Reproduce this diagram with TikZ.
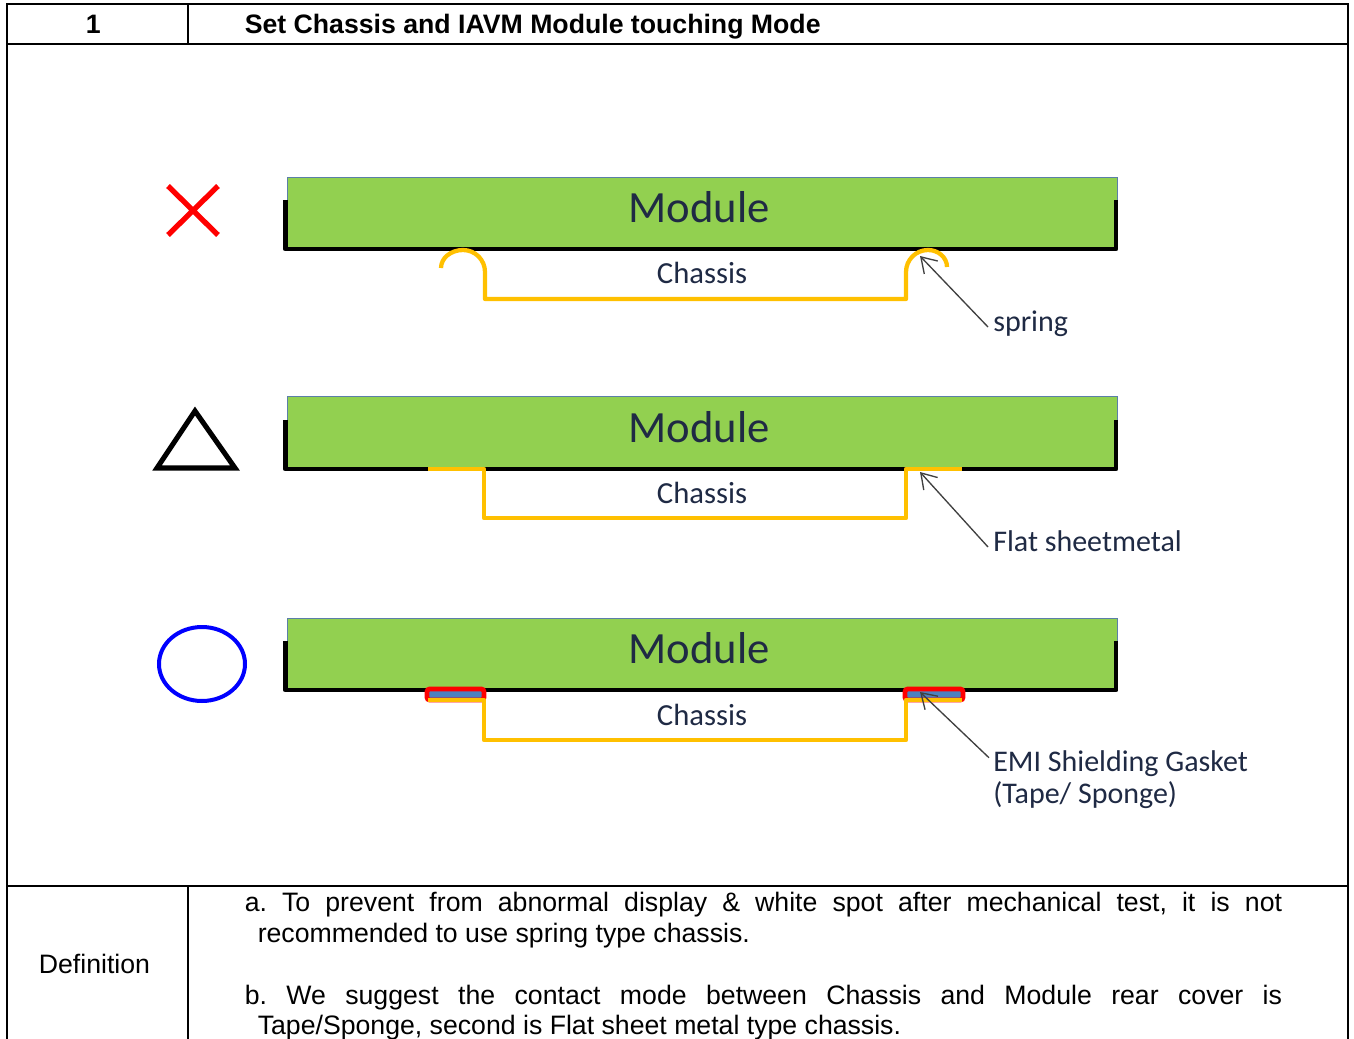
\documentclass[tikz,border=0pt]{standalone}
\usepackage{fontspec}
\setmainfont{Liberation Sans}
\newfontfamily\shapefont{Carlito}
\usetikzlibrary{arrows.meta}
\frenchspacing
\definecolor{modgreen}{HTML}{92D050}
\definecolor{modblue}{HTML}{5B7FA8}
\definecolor{chassisy}{HTML}{FFC000}
\definecolor{gasketb}{HTML}{4F81BD}
\definecolor{labeltxt}{HTML}{1F2A44}
\tikzset{
  gridline/.style={draw=black,line width=1.1pt},
  modulebox/.style={draw=modblue,line width=0.9pt,fill=modgreen,minimum width=622.5pt,minimum height=53.25pt,inner sep=0pt,anchor=north west},
  moduletext/.style={font=\shapefont\fontsize{33.5}{33}\selectfont,text=labeltxt,inner sep=0pt},
  rearcover/.style={draw=black,line width=3.7pt,line join=round},
  chassisline/.style={draw=chassisy,line width=3.2pt,line join=round},
  gasketbox/.style={draw=red,fill=gasketb,line width=3.6pt,rounded corners=2pt},
  chassistext/.style={font=\shapefont\fontsize{23}{24}\selectfont,text=labeltxt,inner sep=0pt},
  calltext/.style={font=\shapefont\fontsize{22.5}{24}\selectfont,text=labeltxt,inner sep=0pt,align=left},
  callout/.style={draw=black!75,line width=1pt,-{Straight Barb[length=11pt,width=14pt,line width=1pt]}},
  celltext/.style={font=\fontsize{20}{23}\selectfont,inner sep=0pt},
  headtext/.style={font=\bfseries\fontsize{20}{23}\selectfont,inner sep=0pt,anchor=base west},
  bodyline/.style={celltext,anchor=base west}
}
\begin{document}
\begin{tikzpicture}[x=0.75pt,y=-0.75pt]
\useasboundingbox (0,0) rectangle (1354,1039);
\fill[white] (0,0) rectangle (1354,1039);
% table
\draw[gridline] (7,1039) -- (7,4) -- (1348,4) -- (1348,1039);
\draw[gridline] (7,44) -- (1348,44);
\draw[gridline] (7,886) -- (1348,886);
\draw[gridline] (188,4) -- (188,44);
\draw[gridline] (188,886) -- (188,1039);
\node[headtext] (num) at (85.5,33) {1};
\node[headtext] (title) at (244.5,33) {Set Chassis and IAVM Module touching Mode};
\node[celltext] (defn) at (94.5,964) {Definition};
\node[bodyline] (para1a) at (244.5,911) {\hbox to 778pt{a. To prevent from abnormal display \& white spot after mechanical test, it is not}};
\node[bodyline] (para1b) at (257.5,942) {recommended to use spring type chassis.};
\node[bodyline] (para2a) at (244.5,1004) {\hbox to 778pt{b. We suggest the contact mode between Chassis and Module rear cover is}};
\node[bodyline] (para2b) at (257.5,1034) {Tape/Sponge, second is Flat sheet metal type chassis.};
% symbols
\draw[red,line width=4pt] (168,186) -- (218,235) (218,186) -- (168,235);
\draw[black,line width=3.8pt,line join=miter] (195,411) -- (235,468) -- (157,468) -- cycle;
\draw[blue,line width=3pt] (202,664) ellipse [x radius=43,y radius=37];
% row 1
\node[modulebox] (mod1) at (287,177) {};
\node[moduletext] (mod1t) at (699,207.5) {Module};
\draw[rearcover] (285.5,200) -- (285.5,249) -- (1116,249) -- (1116,200);
\draw[chassisline] (441,268) arc[start angle=180,end angle=270,x radius=22,y radius=18] arc[start angle=270,end angle=360,x radius=22,y radius=22] -- (485,299) -- (906,299) -- (906,272) arc[start angle=180,end angle=270,x radius=22,y radius=22] arc[start angle=270,end angle=360,x radius=19,y radius=17];
\node[chassistext] (ch1) at (702,273) {Chassis};
\node[calltext,anchor=base west] (spring) at (993,331) {spring};
\coordinate (tip1) at (920,256);
\draw[callout] (spring.base west) ++(-5,-4) -- (tip1);
% row 2
\node[modulebox] (mod2) at (287,396) {};
\node[moduletext] (mod2t) at (699,427.5) {Module};
\draw[rearcover] (285.5,420) -- (285.5,469) -- (1116,469) -- (1116,420);
\draw[chassisline] (428,469) -- (484,469) -- (484,518) -- (906,518) -- (906,469) -- (962,469);
\node[chassistext] (ch2) at (702,493) {Chassis};
\node[calltext,anchor=base west] (flat) at (993,551) {Flat sheetmetal};
\coordinate (tip2) at (920,472);
\draw[callout] (flat.base west) ++(-5,-4) -- (tip2);
% row 3
\node[modulebox] (mod3) at (287,618) {};
\node[moduletext] (mod3t) at (699,648.5) {Module};
\draw[rearcover] (285.5,641) -- (285.5,690) -- (1116,690) -- (1116,641);
\draw[gasketbox] (427,700) -- (427,689) -- (484,689) -- (484,700) -- cycle;
\draw[gasketbox] (905,700) -- (905,689) -- (963,689) -- (963,700) -- cycle;
\draw[chassisline] (428,700) -- (484,700) -- (484,740) -- (906,740) -- (906,700) -- (962,700);
\node[chassistext] (ch3) at (702,715) {Chassis};
\node[calltext,anchor=west] (emi) at (993,780) {EMI Shielding Gasket\\(Tape/ Sponge)};
\coordinate (tip3) at (920,692);
\draw[callout] (emi.north west) ++(-4,7) -- (tip3);
\end{tikzpicture}
\end{document}
